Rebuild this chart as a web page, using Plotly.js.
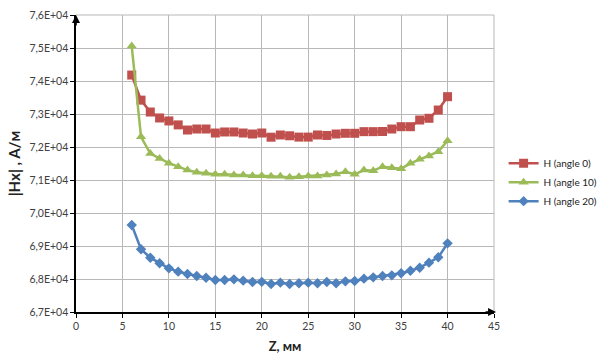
<!DOCTYPE html>
<html>
<head>
<meta charset="utf-8">
<script src="https://cdn.plot.ly/plotly-3.0.1.min.js"></script>
<style>html,body{margin:0;padding:0;background:#fff;}#chart{width:599px;height:354px;}</style>
</head>
<body>
<div id="chart"></div>
<script>
const zValues = [6,7,8,9,10,11,12,13,14,15,16,17,18,19,20,21,22,23,24,25,26,27,28,29,30,31,32,33,34,35,36,37,38,39,40];
const hAngle0 = [74180,73420,73060,72880,72790,72670,72515,72545,72545,72424,72455,72455,72424,72394,72424,72297,72364,72340,72300,72300,72364,72350,72394,72415,72415,72465,72465,72470,72545,72615,72615,72818,72870,73121,73525];
const hAngle10 = [75060,72310,71800,71650,71510,71404,71300,71232,71202,71172,71172,71152,71150,71131,71130,71111,71110,71081,71100,71121,71121,71152,71182,71252,71172,71303,71283,71404,71374,71343,71505,71626,71727,71858,72192];
const hAngle20 = [69636,68900,68646,68475,68323,68222,68152,68091,68040,67970,67970,67990,67950,67909,67914,67848,67889,67848,67869,67889,67869,67909,67869,67929,67940,68010,68050,68091,68111,68172,68252,68343,68495,68657,69081];
const seriesNames = ["H (angle 0)","H (angle 10)","H (angle 20)"];
const seriesColors = ["#C0504D","#9BBB59","#4F81BD"];
const seriesSymbols = ["square","triangle-up","diamond"];
const yTickVals = [67000,68000,69000,70000,71000,72000,73000,74000,75000,76000];
const yTickText = ["6,7E+04","6,8E+04","6,9E+04","7,0E+04","7,1E+04","7,2E+04","7,3E+04","7,4E+04","7,5E+04","7,6E+04"];
const xTickVals = [0,5,10,15,20,25,30,35,40,45];

const ys = [hAngle0, hAngle10, hAngle20];
const sizes = [9, 9, 8];
const traces = ys.map((y, i) => ({
  x: zValues, y: y, name: seriesNames[i], type: 'scatter', mode: 'lines+markers',
  line: {color: seriesColors[i], width: 2.5},
  marker: {symbol: seriesSymbols[i], size: sizes[i], color: seriesColors[i]}
}));

const layout = {
  width: 599, height: 354,
  margin: {l: 76, r: 104.5, t: 15, b: 42, autoexpand: false},
  paper_bgcolor: '#fff', plot_bgcolor: '#fff',
  font: {family: 'Lato, "Open Sans", sans-serif', color: '#404040', size: 10},
  showlegend: true,
  legend: {x: 1.023, y: 0.55, xanchor: 'left', yanchor: 'top', font: {size: 10, color: '#222'},
           itemwidth: 30, tracegroupgap: 5, bgcolor: 'rgba(0,0,0,0)'},
  xaxis: {range: [0, 45], tickvals: xTickVals, ticktext: xTickVals.map(String),
          showgrid: true, gridcolor: '#b8b8b8', gridwidth: 1,
          showline: true, linecolor: '#000', linewidth: 1.6,
          ticks: 'outside', ticklen: 4, tickcolor: '#000', zeroline: false,
          tickfont: {size: 10.5, color: '#404040'},
          title: {text: 'Z, мм', font: {size: 13, color: '#222', weight: 'bold'}, standoff: 10}},
  yaxis: {range: [67000, 76000], tickvals: yTickVals, ticktext: yTickText,
          showgrid: true, gridcolor: '#b8b8b8', gridwidth: 1,
          showline: true, linecolor: '#000', linewidth: 1.6,
          ticks: 'outside', ticklen: 4, tickcolor: '#000', zeroline: false,
          tickfont: {size: 10.5, color: '#404040'},
          title: {text: '|Hx| , A/м', font: {size: 15, color: '#222', weight: 'bold'}, standoff: 5}},
  shapes: [
    {type: 'line', xref: 'paper', yref: 'paper', x0: 0, x1: 1, y0: 1, y1: 1, line: {color: '#b8b8b8', width: 1}},
    {type: 'line', xref: 'paper', yref: 'paper', x0: 1, x1: 1, y0: 0, y1: 1, line: {color: '#b8b8b8', width: 1}}
  ],
  annotations: [
    {xref: 'paper', yref: 'paper', x: 0, y: 1, ax: 0, ay: 12, text: '', showarrow: true,
     arrowhead: 2, arrowsize: 1, arrowwidth: 1.6, arrowcolor: '#000'},
    {xref: 'paper', yref: 'paper', x: 1.005, y: 0, ax: -12, ay: 0, text: '', showarrow: true,
     arrowhead: 2, arrowsize: 1, arrowwidth: 1.6, arrowcolor: '#000'}
  ]
};
Plotly.newPlot('chart', traces, layout, {displayModeBar: false, staticPlot: true});
</script>
</body>
</html>
